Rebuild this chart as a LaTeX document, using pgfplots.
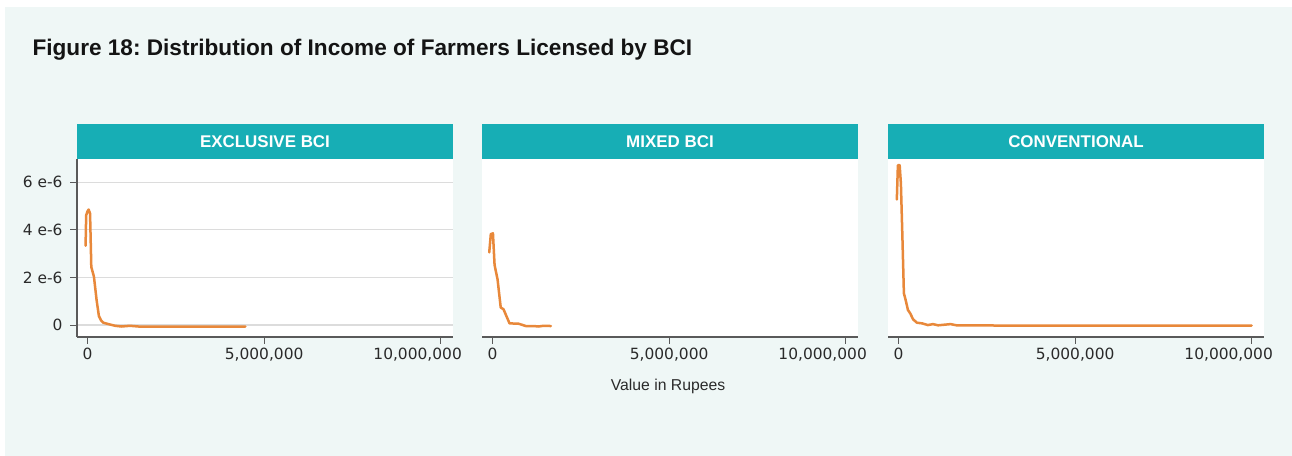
\documentclass[border=0pt]{standalone}
\usepackage{pgfplots}
\pgfplotsset{compat=1.18}
\usepackage{fontspec}
\setmainfont{Liberation Sans}
\newfontfamily\tickfont{DejaVu Sans}
\frenchspacing

\definecolor{bgmint}{HTML}{EFF7F6}
\definecolor{hdrteal}{HTML}{17AEB5}
\definecolor{lineorange}{HTML}{E8883A}
\definecolor{gridgray}{HTML}{DCDCDC}
\definecolor{axisgray}{HTML}{5A5A5A}
\definecolor{txtgray}{HTML}{2A2A2A}

\pgfplotsset{
  panel/.style={
    scale only axis,
    width=376bp, height=178bp,
    anchor=south west,
    xmin=-300000, xmax=10350000,
    ymin=-0.5e-6, ymax=6.97e-6,
    scaled x ticks=false, scaled y ticks=false,
    axis background/.style={fill=white},
    axis x line*=bottom,
    axis line style={axisgray, line width=1.3bp},
    xtick={0,5000000},
    xticklabels={0,5{,}000{,}000},
    extra x ticks={10000000},
    extra x tick labels={10{,}000{,}000},
    extra x tick style={xticklabel style={xshift=-23bp}},
    ytick={0,2e-6,4e-6,6e-6},
    ymajorgrids,
    major grid style={gridgray, line width=1.2bp},
    tick align=outside,
    major tick length=7bp,
    tick style={axisgray, line width=1bp},
    x tick label style={font=\tickfont\fontsize{15.5}{18}\selectfont, text=txtgray, yshift=-1bp},
    y tick label style={font=\tickfont\fontsize{15.5}{18}\selectfont, text=txtgray, xshift=-4bp},
    /pgf/number format/assume math mode=true,
    clip=false,
  },
  dens/.style={lineorange, line width=2.5bp, line join=round, line cap=round},
}

\begin{document}
\begin{tikzpicture}
\begin{scope}[x=1bp,y=1bp]
\fill[white] (0,0) rectangle (1292,456);
\fill[bgmint] (5,0) rectangle (1292,449);

\node[anchor=base west, font=\bfseries\fontsize{22.7}{26}\selectfont, text=black!92] at (29,400) {Figure 18: Distribution of Income of Farmers Licensed by BCI};

% panel headers
\fill[hdrteal] (77,297) rectangle (453,332);
\fill[hdrteal] (482,297) rectangle (858,332);
\fill[hdrteal] (888,297) rectangle (1264,332);
\node[font=\bfseries\fontsize{17}{20}\selectfont, text=white] at (265,314.5) {EXCLUSIVE BCI};
\node[font=\bfseries\fontsize{17}{20}\selectfont, text=white] at (670,314.5) {MIXED BCI};
\node[font=\bfseries\fontsize{17}{20}\selectfont, text=white] at (1076,314.5) {CONVENTIONAL};
\node[anchor=base, font=\fontsize{15.8}{19}\selectfont, text=txtgray] at (668,65) {Value in Rupees};
\end{scope}

% Exclusive BCI
\begin{axis}[panel, at={(77bp,119bp)}, axis y line*=left,
  yticklabels={0,2 e-6,4 e-6,6 e-6}]
\addplot[dens] coordinates {
(-57000,3.33e-6) (-40000,4.61e-6) (0,4.78e-6) (30000,4.85e-6) (70000,4.68e-6)
(105000,2.44e-6) (180000,2.03e-6) (255000,1.05e-6) (320000,0.38e-6)
(380000,0.20e-6) (445000,0.10e-6) (590000,0.04e-6) (780000,-0.03e-6)
(960000,-0.06e-6) (1200000,-0.03e-6) (1440000,-0.06e-6) (2500000,-0.06e-6)
(4470000,-0.06e-6)};
\end{axis}

% Mixed BCI
\begin{axis}[panel, at={(482bp,119bp)}, axis y line=none, yticklabels={}]
\addplot[dens] coordinates {
(-95000,3.05e-6) (-50000,3.82e-6) (10000,3.85e-6) (56000,2.52e-6)
(140000,1.92e-6) (230000,0.74e-6) (310000,0.66e-6) (480000,0.07e-6)
(730000,0.06e-6) (940000,-0.04e-6) (1160000,-0.04e-6) (1300000,-0.06e-6)
(1440000,-0.03e-6) (1650000,-0.04e-6)};
\end{axis}

% Conventional
\begin{axis}[panel, at={(888bp,119bp)}, axis y line=none, yticklabels={}]
\addplot[dens] coordinates {
(-50000,5.27e-6) (-20000,6.71e-6) (30000,6.71e-6) (65000,5.94e-6)
(105000,3.84e-6) (150000,1.33e-6) (200000,1.05e-6) (265000,0.63e-6)
(330000,0.49e-6) (410000,0.24e-6) (520000,0.10e-6) (670000,0.07e-6)
(830000,0.00e-6) (970000,0.04e-6) (1120000,-0.01e-6) (1470000,0.04e-6)
(1640000,-0.01e-6) (3000000,-0.02e-6) (6000000,-0.02e-6) (10000000,-0.02e-6)};
\end{axis}
\end{tikzpicture}
\end{document}
